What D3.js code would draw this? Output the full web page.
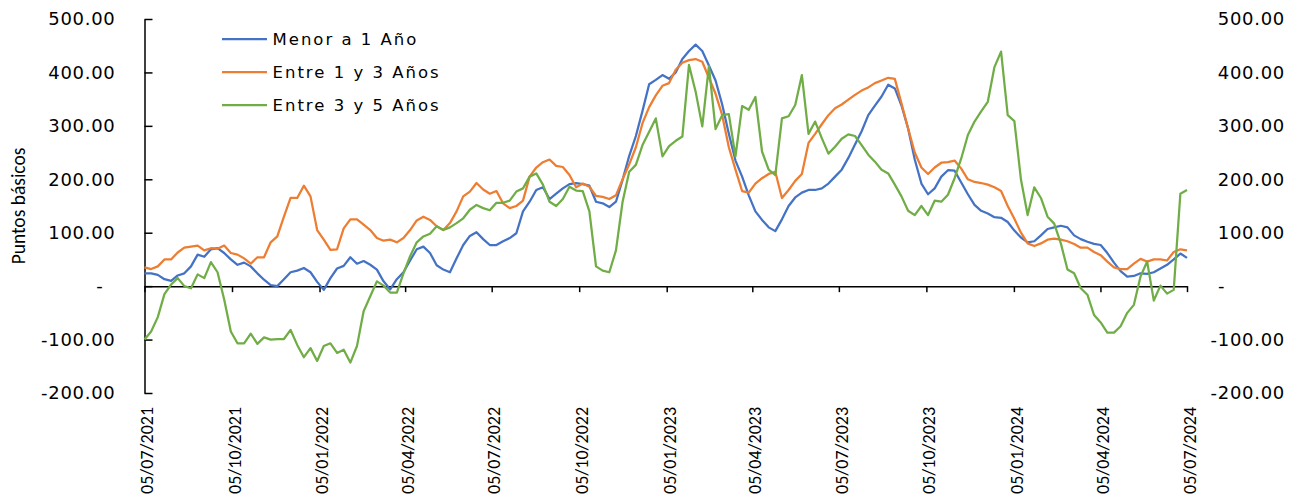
<!DOCTYPE html>
<html>
<head>
<meta charset="utf-8">
<script src="https://cdn.jsdelivr.net/npm/d3@7"></script>
<style>
  body { margin: 0; background: #fff; }
</style>
</head>
<body>
<div id="chart"></div>
<script>
/*
Spreads por plazo - tres series semanales
*/

var svgWidth = 1299,
    svgHeight = 495;

// Series names and colours
var seriesNames = ["Menor a 1 Año", "Entre 1 y 3 Años", "Entre 3 y 5 Años"];
var seriesColors = ["#4472C4", "#ED7D31", "#70AD47"];

// First and last date of the series (points are evenly spaced in between)
var startDate = "05/07/2021",
    endDate = "05/07/2024";

var xTickLabels = ["05/07/2021", "05/10/2021", "05/01/2022", "05/04/2022", "05/07/2022",
    "05/10/2022", "05/01/2023", "05/04/2023", "05/07/2023", "05/10/2023",
    "05/01/2024", "05/04/2024", "05/07/2024"];

var yTicks = [-200, -100, 0, 100, 200, 300, 400, 500];

// Puntos básicos, lectura semanal
var menor1 = [
    24,24,21,13,10,20,24,37,59,55,69,71,62,50,40,44,37,24,12,2,0,13,26,29,34,26,8,
    -7,15,33,38,54,42,47,40,31,9,-6,13,26,48,69,74,62,39,31,26,52,77,94,101,88,77,
    77,84,90,99,140,158,180,185,163,173,183,191,193,191,188,158,155,148,158,199,244,281,328,378,386,395,
    388,400,425,440,452,440,413,385,340,285,235,205,170,140,124,110,103,125,150,166,175,180,180,183,192,205,218,
    240,265,290,320,338,355,377,370,338,295,237,192,172,183,205,217,216,194,172,152,141,136,129,128,120,104,
    91,82,84,95,107,110,113,110,95,88,83,79,77,62,44,28,18,19,24,23,26,33,40,50,61,53];

var entre1y3 = [
    35,32,37,50,50,63,72,74,76,67,71,70,76,62,59,52,42,54,54,82,93,130,165,165,188,168,105,
    87,68,69,108,125,125,115,105,90,85,87,82,90,105,123,130,124,112,105,118,140,168,177,193,181,173,
    178,155,146,150,160,205,222,232,237,225,223,208,185,192,186,169,167,163,170,200,228,260,305,335,357,375,
    380,405,418,423,425,420,390,360,320,260,218,178,175,192,202,210,214,165,180,197,210,268,285,303,320,333,340,
    349,358,366,372,380,385,390,388,342,295,250,222,210,222,231,232,235,220,200,195,193,190,185,178,150,126,
    100,80,75,80,87,89,87,84,79,72,72,64,58,46,35,32,32,42,51,46,50,50,48,64,69,67];

var entre3y5 = [
    -100,-85,-58,-15,3,15,0,-4,22,15,45,26,-25,-85,-107,-107,-89,-108,-96,-100,-99,-99,-82,-110,-133,-116,-140,
    -112,-107,-125,-119,-143,-112,-47,-19,9,1,-12,-12,24,56,82,93,98,112,105,110,118,127,143,152,146,142,
    156,156,160,177,183,205,211,190,158,150,163,186,179,178,140,37,29,26,67,158,214,227,264,289,314,243,
    262,272,280,414,364,299,412,294,320,322,243,337,330,354,252,218,208,314,318,339,395,285,308,277,248,261,276,
    284,281,264,246,233,218,211,190,168,141,133,150,133,160,158,171,202,239,283,308,327,345,410,439,320,309,
    199,133,185,165,130,117,80,31,24,-4,-16,-54,-68,-87,-87,-75,-50,-35,18,46,-27,1,-14,-7,173,180];

var allSeries = [menor1, entre1y3, entre3y5];

var parseTime = d3.timeParse("%d/%m/%Y");
var formatTime = d3.timeFormat("%d/%m/%Y");

var t0 = parseTime(startDate).getTime(),
    t1 = parseTime(endDate).getTime();
var nPoints = menor1.length;
var dates = menor1.map((d, i) => new Date(t0 + i * (t1 - t0) / (nPoints - 1)));

var svg = d3.select("#chart")
    .append("svg")
        .attr("width", svgWidth)
        .attr("height", svgHeight);

// Scales
var x = d3.scaleTime()
    .domain([parseTime(startDate), parseTime(endDate)])
    .range([144.5, 1187]);

var y = d3.scaleLinear()
    .domain([-200, 500])
    .range([393, 19]);

var numFormat = v => v === 0 ? "-" : v.toFixed(2);
var numFont = "'DejaVu Sans', Verdana, sans-serif";
var narrowFont = "Carlito, Calibri, 'Liberation Sans Narrow', 'Liberation Sans', sans-serif";

// Left axis (ticks inside)
var leftAxis = svg.append("g")
    .attr("transform", "translate(144.5,0)")
    .call(d3.axisLeft(y)
        .tickValues(yTicks)
        .tickSizeInner(-8)
        .tickSizeOuter(0)
        .tickPadding(29)
        .tickFormat(numFormat));
leftAxis.select(".domain").attr("stroke", "#000").attr("stroke-width", 1.5);
leftAxis.selectAll(".tick line").attr("stroke", "#000").attr("stroke-width", 1.5);
leftAxis.selectAll(".tick text")
    .attr("font-family", numFont)
    .attr("font-size", "18px")
    .attr("letter-spacing", "0.7px")
    .attr("fill", "#000")
    .filter(d => d === 0)
        .attr("x", -41);

// Right labels (no axis line)
var rightAxis = svg.append("g")
    .attr("transform", "translate(1285,0)")
    .call(d3.axisLeft(y).tickValues(yTicks).tickSize(0).tickPadding(0).tickFormat(numFormat));
rightAxis.select(".domain").remove();
rightAxis.selectAll(".tick line").remove();
rightAxis.selectAll(".tick text")
    .attr("font-family", numFont)
    .attr("font-size", "18px")
    .attr("letter-spacing", "0.7px")
    .attr("fill", "#000")
    .filter(d => d === 0)
        .attr("text-anchor", "start")
        .attr("x", -67);

// Bottom axis at zero
var xAxis = svg.append("g")
    .attr("transform", `translate(0, ${y(0)})`)
    .call(d3.axisBottom(x)
        .tickValues(xTickLabels.map(parseTime))
        .tickSizeInner(6)
        .tickSizeOuter(0)
        .tickFormat(formatTime));
xAxis.select(".domain").attr("stroke", "#000").attr("stroke-width", 1.5);
xAxis.selectAll(".tick line").attr("stroke", "#000").attr("stroke-width", 1.5);
xAxis.selectAll(".tick text")
    .attr("font-family", narrowFont)
    .attr("font-size", "18px")
    .attr("fill", "#000")
    .attr("text-anchor", "end")
    .attr("transform", "rotate(-90)")
    .attr("x", -(407 - y(0)))
    .attr("y", 2)
    .attr("dy", "0.35em");

// Lines
var line = d3.line()
    .x((d, i) => x(dates[i]))
    .y(d => y(d));

svg.selectAll(".serie")
    .data(allSeries)
    .enter()
    .append("path")
        .attr("class", "serie")
        .attr("fill", "none")
        .attr("stroke", (d, i) => seriesColors[i])
        .attr("stroke-width", 2.25)
        .attr("stroke-linejoin", "round")
        .attr("d", line);

// Legend
var legendItems = svg.append("g")
    .selectAll("g")
    .data(seriesNames)
    .enter()
    .append("g")
        .attr("transform", (d, i) => `translate(222, ${39 + i * 33})`);

legendItems.append("line")
    .attr("x1", 0)
    .attr("x2", 45)
    .attr("stroke", (d, i) => seriesColors[i])
    .attr("stroke-width", 2.25);

legendItems.append("text")
    .attr("x", 50.5)
    .attr("y", 5.5)
    .attr("font-family", numFont)
    .attr("font-size", "16.5px")
    .attr("letter-spacing", "2px")
    .attr("fill", "#000")
    .text(d => d);

// Y label
svg.append("text")
    .attr("transform", "translate(25, 206) rotate(-90)")
    .attr("text-anchor", "middle")
    .attr("font-family", narrowFont)
    .attr("font-size", "19.5px")
    .attr("fill", "#000")
    .text("Puntos básicos");
</script>
</body>
</html>
